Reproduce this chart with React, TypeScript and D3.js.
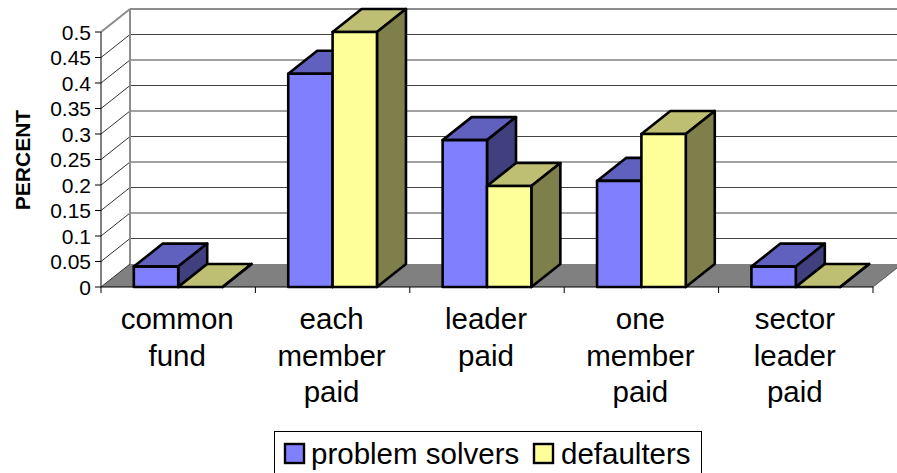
import React from "react";
import * as d3 from "d3";

const categories = ["common fund", "each member paid", "leader paid", "one member paid", "sector leader paid"];
const categoryLines = [["common", "fund"], ["each", "member", "paid"], ["leader", "paid"], ["one", "member", "paid"], ["sector", "leader", "paid"]];
const problemSolvers = [0.04, 0.418, 0.288, 0.208, 0.04];
const defaulters = [0, 0.5, 0.198, 0.3, 0];
const yTicks = [0, 0.05, 0.1, 0.15, 0.2, 0.25, 0.3, 0.35, 0.4, 0.45, 0.5];
const seriesNames = ["problem solvers", "defaulters"];
const colors = [
  { front: "#8080ff", top: "#6060bf", side: "#40407f" },
  { front: "#ffff99", top: "#bfbf73", side: "#7f7f4c" },
];

const W = 897, H = 473;
const DX = 29, DY = -23;
const FONT = "'Liberation Sans', Arial, sans-serif";

export default function App() {
  const y = d3.scaleLinear().domain([0, 0.5]).range([287, 32]);
  const x0 = d3.scaleBand<number>().domain(d3.range(categories.length)).range([101, 873]);
  const xs = d3.scaleBand<number>().domain([0, 1]).range([0, x0.bandwidth()]).paddingInner(0).paddingOuter(0.74);
  const pts = (p: number[][]) => p.map((q) => q.join(",")).join(" ");
  const L = 101, R = 873, B = y(0), T = y(0.5);
  const order: { c: number; s: number; v: number }[] = [];
  categories.forEach((_, c) => {
    order.push({ c, s: 0, v: problemSolvers[c] });
    order.push({ c, s: 1, v: defaulters[c] });
  });
  const stroke = "#000";
  return (
    <svg width={W} height={H} style={{ position: "absolute", left: 0, top: 0, background: "#fff" }} fontFamily={FONT}>
      <polygon points={pts([[L, B], [R, B], [R + DX, B + DY], [L + DX, B + DY]])} fill="#808080" />
      {yTicks.map((t) => (
        <g key={t}>
          <line x1={L} y1={y(t)} x2={L + DX} y2={y(t) + DY} stroke={t === 0.5 ? "#8c8c8c" : "#333"} strokeWidth={t === 0.5 ? 2 : 1} />
          {t > 0 && (
            <line x1={L + DX} y1={y(t) + DY} x2={W} y2={y(t) + DY} stroke={t === 0.5 ? "#8c8c8c" : "#444"} strokeWidth={t === 0.5 ? 2 : 1.2} />
          )}
          <line x1={L - 6} y1={y(t)} x2={L} y2={y(t)} stroke="#000" />
          <text x={91} y={y(t) + 7.5} textAnchor="end" fontSize={21} fill="#000">{t}</text>
        </g>
      ))}
      <line x1={L + DX} y1={T + DY} x2={L + DX} y2={B + DY} stroke="#8c8c8c" strokeWidth={2} />
      <line x1={L} y1={T} x2={L} y2={B} stroke="#000" />
      <line x1={L} y1={B} x2={R} y2={B} stroke="#000" />
      <line x1={R} y1={B} x2={R + DX} y2={B + DY} stroke="#555" />
      {d3.range(categories.length + 1).map((i) => {
        const px = L + (i * (R - L)) / categories.length;
        return <line key={i} x1={px} y1={B} x2={px} y2={B + 6} stroke="#000" />;
      })}
      {order.map(({ c, s, v }) => {
        const x1 = (x0(c) as number) + (xs(s) as number);
        const x2 = x1 + xs.bandwidth();
        const yt = y(v);
        const col = colors[s];
        return (
          <g key={`${c}-${s}`} stroke={stroke} strokeWidth={2.6} strokeLinejoin="round">
            <polygon points={pts([[x1, yt], [x2, yt], [x2 + DX, yt + DY], [x1 + DX, yt + DY]])} fill={col.top} />
            <polygon points={pts([[x2, yt], [x2 + DX, yt + DY], [x2 + DX, B + DY], [x2, B]])} fill={col.side} />
            <rect x={x1} y={yt} width={x2 - x1} height={B - yt} fill={col.front} />
          </g>
        );
      })}
      <text transform="translate(30,160) rotate(-90)" textAnchor="middle" fontSize={21} fontWeight="bold">PERCENT</text>
      {categoryLines.map((ls, c) => (
        <text key={c} textAnchor="middle" fontSize={29.5} fill="#000">
          {ls.map((l, i) => (
            <tspan key={i} x={(x0(c) as number) + x0.bandwidth() / 2 - 1} y={329 + i * 36.5}>{l}</tspan>
          ))}
        </text>
      ))}
      <rect x={274.5} y={431.5} width={427} height={50} fill="#fff" stroke="#000" />
      <rect x={285} y={444} width={19} height={19} fill={colors[0].front} stroke="#000" strokeWidth={2.4} />
      <text x={311} y={464} fontSize={29.5}>{seriesNames[0]}</text>
      <rect x={534} y={444} width={19} height={19} fill={colors[1].front} stroke="#000" strokeWidth={2.4} />
      <text x={561} y={464} fontSize={29.5}>{seriesNames[1]}</text>
    </svg>
  );
}
